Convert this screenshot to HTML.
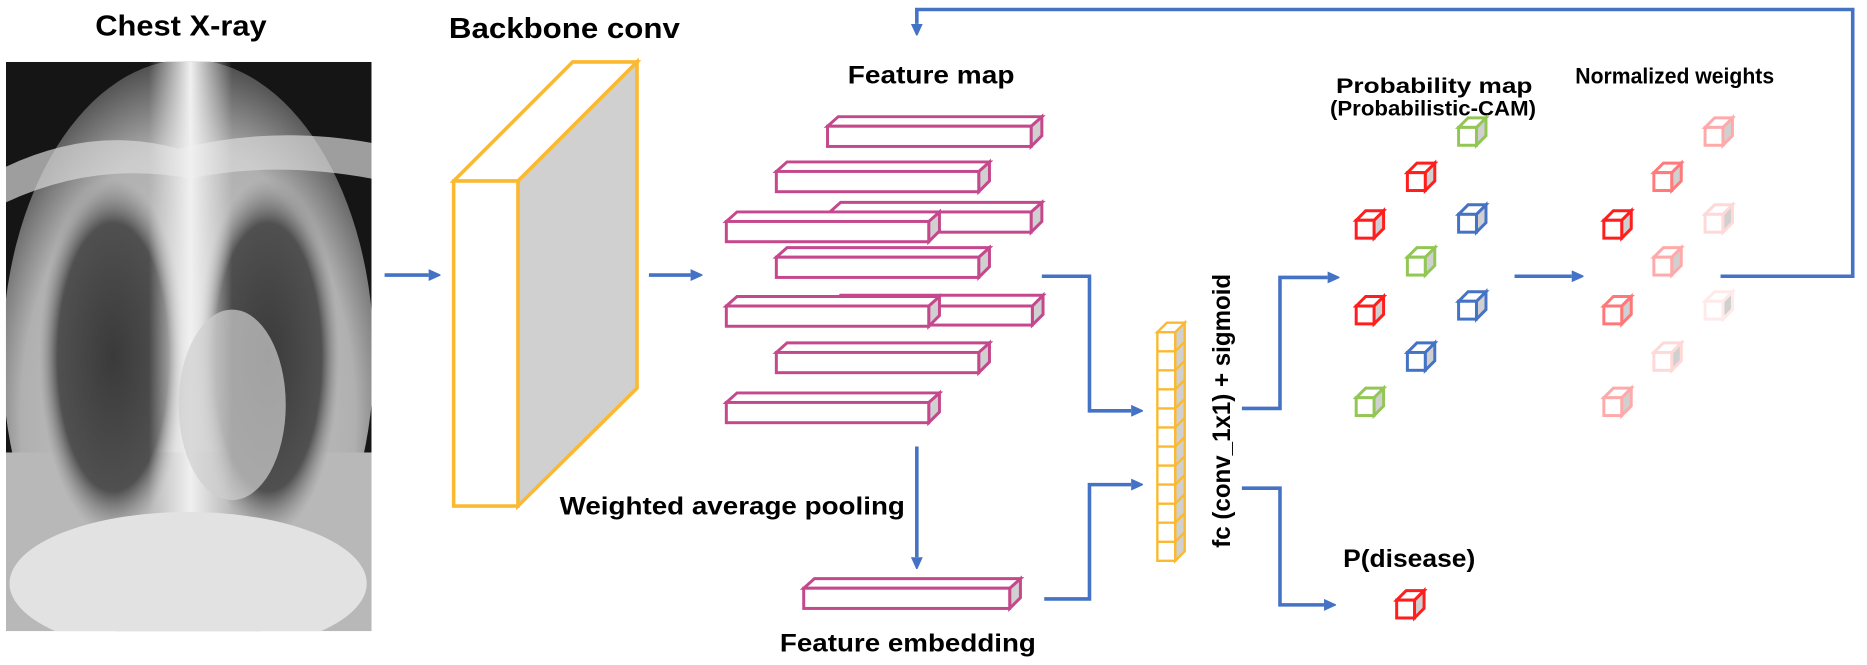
<!DOCTYPE html>
<html><head><meta charset="utf-8"><style>
html,body{margin:0;padding:0;background:#fff;overflow:hidden;width:1867px;height:665px;}
svg{display:block;}
text{font-family:"Liberation Sans",sans-serif;font-weight:bold;fill:#000;}
</style></head><body>
<svg width="1867" height="665" viewBox="0 0 1568 558.5" preserveAspectRatio="none" xmlns="http://www.w3.org/2000/svg">
<defs>
<marker id="ah" markerWidth="10" markerHeight="10" refX="0" refY="5" orient="auto" markerUnits="userSpaceOnUse">
<path d="M0,0 L11,5 L0,10 Z" fill="#4472C4"/></marker>
<clipPath id="xc"><rect x="5" y="52" width="307" height="478"/></clipPath>
<radialGradient id="body" cx="0.5" cy="0.6" r="0.6">
<stop offset="0" stop-color="#d0d0d0"/><stop offset="0.75" stop-color="#b0b0b0"/><stop offset="1" stop-color="#505050"/></radialGradient>
<radialGradient id="lung" cx="0.5" cy="0.5" r="0.5">
<stop offset="0" stop-color="#3a3a3a"/><stop offset="0.75" stop-color="#505050"/><stop offset="1" stop-color="#888" stop-opacity="0"/></radialGradient>
<linearGradient id="med" x1="0" x2="1"><stop offset="0" stop-color="#eee" stop-opacity="0"/><stop offset="0.5" stop-color="#f0f0f0"/><stop offset="1" stop-color="#eee" stop-opacity="0"/></linearGradient>
</defs>

<g clip-path="url(#xc)">
<rect x="5" y="52" width="307" height="478" fill="#151515"/>
<ellipse cx="158" cy="300" rx="156" ry="250" fill="url(#body)"/>
<rect x="5" y="380" width="307" height="150" fill="#b8b8b8"/>
<path d="M5,140 Q80,105 150,125 Q230,105 312,120 L312,150 Q230,135 160,150 Q80,135 5,170 Z" fill="#d8d8d8" opacity="0.7"/>
<ellipse cx="95" cy="300" rx="62" ry="150" fill="url(#lung)"/>
<ellipse cx="225" cy="300" rx="60" ry="150" fill="url(#lung)"/>
<rect x="125" y="52" width="70" height="478" fill="url(#med)"/>
<ellipse cx="195" cy="340" rx="45" ry="80" fill="#cfcfcf" opacity="0.7"/>
<ellipse cx="158" cy="490" rx="150" ry="60" fill="#e2e2e2"/>
</g>

<text x="80" y="30" font-size="24" textLength="144" lengthAdjust="spacingAndGlyphs">Chest X-ray</text>
<text x="377" y="32" font-size="24" textLength="194" lengthAdjust="spacingAndGlyphs">Backbone conv</text>
<text x="712" y="70" font-size="21" textLength="140" lengthAdjust="spacingAndGlyphs">Feature map</text>
<text x="1122" y="78" font-size="18" textLength="165" lengthAdjust="spacingAndGlyphs">Probability map</text>
<text x="1117" y="97" font-size="18" textLength="173" lengthAdjust="spacingAndGlyphs">(Probabilistic-CAM)</text>
<text x="1323" y="70" font-size="19" textLength="167" lengthAdjust="spacingAndGlyphs">Normalized weights</text>
<text x="470" y="432" font-size="21" textLength="290" lengthAdjust="spacingAndGlyphs">Weighted average pooling</text>
<text x="655" y="547" font-size="21" textLength="215" lengthAdjust="spacingAndGlyphs">Feature embedding</text>
<text x="1128" y="476" font-size="21" textLength="111" lengthAdjust="spacingAndGlyphs">P(disease)</text>
<text transform="translate(1033,460) rotate(-90)" font-size="21" textLength="230" lengthAdjust="spacingAndGlyphs">fc (conv_1x1) + sigmoid</text>

<g stroke="#FBB931" stroke-width="3" stroke-linejoin="miter">
<polygon points="435,152 535,52 535,326 435,425" fill="#d0d0d0"/>
<polygon points="381,152 481,52 535,52 435,152" fill="#fff"/>
<rect x="381" y="152" width="54" height="273" fill="#fff"/>
</g>

<g stroke="#4472C4" stroke-width="3" fill="none">
<line x1="323" y1="231" x2="360" y2="231" marker-end="url(#ah)"/>
<line x1="545" y1="231" x2="580" y2="231" marker-end="url(#ah)"/>
<polyline points="875,232 915,232 915,345 950,345" marker-end="url(#ah)"/>
<line x1="770" y1="375" x2="770" y2="468" marker-end="url(#ah)"/>
<polyline points="877,503 915,503 915,407 950,407" marker-end="url(#ah)"/>
<polyline points="1043,343 1075,343 1075,233 1115,233" marker-end="url(#ah)"/>
<polyline points="1043,410 1075,410 1075,508 1112,508" marker-end="url(#ah)"/>
<line x1="1272" y1="232" x2="1320" y2="232" marker-end="url(#ah)"/>
<polyline points="1445,232 1556,232 1556,8 770,8 770,20" marker-end="url(#ah)"/>
</g>

<g stroke="#C5488C" stroke-width="2.5" stroke-linejoin="miter">
<g><polygon points="866,106 875,98 875,114 866,123" fill="#d0d0d0"/><polygon points="695,106 704,98 875,98 866,106" fill="#fff"/><rect x="695" y="106" width="171" height="17" fill="#fff"/></g>
<g><polygon points="822,144 831,136 831,152 822,161" fill="#d0d0d0"/><polygon points="652,144 661,136 831,136 822,144" fill="#fff"/><rect x="652" y="144" width="170" height="17" fill="#fff"/></g>
<g><polygon points="866,178 875,170 875,186 866,195" fill="#d0d0d0"/><polygon points="697,178 706,170 875,170 866,178" fill="#fff"/><rect x="697" y="178" width="169" height="17" fill="#fff"/></g>
<g><polygon points="780,186 789,178 789,194 780,203" fill="#d0d0d0"/><polygon points="610,186 619,178 789,178 780,186" fill="#fff"/><rect x="610" y="186" width="170" height="17" fill="#fff"/></g>
<g><polygon points="822,216 831,208 831,224 822,233" fill="#d0d0d0"/><polygon points="652,216 661,208 831,208 822,216" fill="#fff"/><rect x="652" y="216" width="170" height="17" fill="#fff"/></g>
<g><polygon points="867,257 876,248 876,264 867,273" fill="#d0d0d0"/><polygon points="697,257 706,248 876,248 867,257" fill="#fff"/><rect x="697" y="257" width="170" height="16" fill="#fff"/></g>
<g><polygon points="780,257 789,249 789,265 780,274" fill="#d0d0d0"/><polygon points="610,257 619,249 789,249 780,257" fill="#fff"/><rect x="610" y="257" width="170" height="17" fill="#fff"/></g>
<g><polygon points="822,296 831,288 831,304 822,313" fill="#d0d0d0"/><polygon points="652,296 661,288 831,288 822,296" fill="#fff"/><rect x="652" y="296" width="170" height="17" fill="#fff"/></g>
<g><polygon points="780,338 789,330 789,346 780,355" fill="#d0d0d0"/><polygon points="610,338 619,330 789,330 780,338" fill="#fff"/><rect x="610" y="338" width="170" height="17" fill="#fff"/></g>
<g><polygon points="848,494 857,486 857,502 848,511" fill="#d0d0d0"/><polygon points="675,494 684,486 857,486 848,494" fill="#fff"/><rect x="675" y="494" width="173" height="17" fill="#fff"/></g>
</g>

<g stroke="#FBB931" stroke-width="2">
<polygon points="987,279 995,271 995,463 987,471" fill="#d0d0d0"/>
<polygon points="972,279 980,271 995,271 987,279" fill="#fff"/>
<rect x="972" y="279" width="15" height="192" fill="#fff"/>
<path d="M972,295h15M972,311h15M972,327h15M972,343h15M972,359h15M972,375h15M972,391h15M972,407h15M972,423h15M972,439h15M972,455h15M987,295l8,-8M987,311l8,-8M987,327l8,-8M987,343l8,-8M987,359l8,-8M987,375l8,-8M987,391l8,-8M987,407l8,-8M987,423l8,-8M987,439l8,-8M987,455l8,-8" fill="none"/>
</g>

<g stroke-width="2.5" stroke-linejoin="miter">
<g stroke="#FF1E1E"><polygon points="1154,185 1162,177 1162,192 1154,200" fill="#d0d0d0"/><polygon points="1139,185 1147,177 1162,177 1154,185" fill="#fff"/><rect x="1139" y="185" width="15" height="15" fill="#fff"/></g>
<g stroke="#FF1E1E"><polygon points="1154,257 1162,249 1162,264 1154,272" fill="#d0d0d0"/><polygon points="1139,257 1147,249 1162,249 1154,257" fill="#fff"/><rect x="1139" y="257" width="15" height="15" fill="#fff"/></g>
<g stroke="#92C755"><polygon points="1154,334 1162,326 1162,341 1154,349" fill="#d0d0d0"/><polygon points="1139,334 1147,326 1162,326 1154,334" fill="#fff"/><rect x="1139" y="334" width="15" height="15" fill="#fff"/></g>
<g stroke="#FF1E1E"><polygon points="1197,145 1205,137 1205,152 1197,160" fill="#d0d0d0"/><polygon points="1182,145 1190,137 1205,137 1197,145" fill="#fff"/><rect x="1182" y="145" width="15" height="15" fill="#fff"/></g>
<g stroke="#92C755"><polygon points="1197,216 1205,208 1205,223 1197,231" fill="#d0d0d0"/><polygon points="1182,216 1190,208 1205,208 1197,216" fill="#fff"/><rect x="1182" y="216" width="15" height="15" fill="#fff"/></g>
<g stroke="#4472C4"><polygon points="1197,296 1205,288 1205,303 1197,311" fill="#d0d0d0"/><polygon points="1182,296 1190,288 1205,288 1197,296" fill="#fff"/><rect x="1182" y="296" width="15" height="15" fill="#fff"/></g>
<g stroke="#92C755"><polygon points="1240,107 1248,99 1248,114 1240,122" fill="#d0d0d0"/><polygon points="1225,107 1233,99 1248,99 1240,107" fill="#fff"/><rect x="1225" y="107" width="15" height="15" fill="#fff"/></g>
<g stroke="#4472C4"><polygon points="1240,180 1248,172 1248,187 1240,195" fill="#d0d0d0"/><polygon points="1225,180 1233,172 1248,172 1240,180" fill="#fff"/><rect x="1225" y="180" width="15" height="15" fill="#fff"/></g>
<g stroke="#4472C4"><polygon points="1240,253 1248,245 1248,260 1240,268" fill="#d0d0d0"/><polygon points="1225,253 1233,245 1248,245 1240,253" fill="#fff"/><rect x="1225" y="253" width="15" height="15" fill="#fff"/></g>

<g stroke="#FF1E1E"><polygon points="1362,185 1370,177 1370,192 1362,200" fill="#d0d0d0"/><polygon points="1347,185 1355,177 1370,177 1362,185" fill="#fff"/><rect x="1347" y="185" width="15" height="15" fill="#fff"/></g>
<g stroke="#FF7777"><polygon points="1362,257 1370,249 1370,264 1362,272" fill="#d0d0d0"/><polygon points="1347,257 1355,249 1370,249 1362,257" fill="#fff"/><rect x="1347" y="257" width="15" height="15" fill="#fff"/></g>
<g stroke="#FFAAAA"><polygon points="1362,334 1370,326 1370,341 1362,349" fill="#d0d0d0"/><polygon points="1347,334 1355,326 1370,326 1362,334" fill="#fff"/><rect x="1347" y="334" width="15" height="15" fill="#fff"/></g>
<g stroke="#FF7A7A"><polygon points="1404,145 1412,137 1412,152 1404,160" fill="#d0d0d0"/><polygon points="1389,145 1397,137 1412,137 1404,145" fill="#fff"/><rect x="1389" y="145" width="15" height="15" fill="#fff"/></g>
<g stroke="#FFAAAA"><polygon points="1404,216 1412,208 1412,223 1404,231" fill="#d0d0d0"/><polygon points="1389,216 1397,208 1412,208 1404,216" fill="#fff"/><rect x="1389" y="216" width="15" height="15" fill="#fff"/></g>
<g stroke="#FFD8D8"><polygon points="1404,296 1412,288 1412,303 1404,311" fill="#d0d0d0"/><polygon points="1389,296 1397,288 1412,288 1404,296" fill="#fff"/><rect x="1389" y="296" width="15" height="15" fill="#fff"/></g>
<g stroke="#FFAAAA"><polygon points="1447,107 1455,99 1455,114 1447,122" fill="#d0d0d0"/><polygon points="1432,107 1440,99 1455,99 1447,107" fill="#fff"/><rect x="1432" y="107" width="15" height="15" fill="#fff"/></g>
<g stroke="#FFD8D8"><polygon points="1447,180 1455,172 1455,187 1447,195" fill="#d0d0d0"/><polygon points="1432,180 1440,172 1455,172 1447,180" fill="#fff"/><rect x="1432" y="180" width="15" height="15" fill="#fff"/></g>
<g stroke="#FFEAEA"><polygon points="1447,253 1455,245 1455,260 1447,268" fill="#d0d0d0"/><polygon points="1432,253 1440,245 1455,245 1447,253" fill="#fff"/><rect x="1432" y="253" width="15" height="15" fill="#fff"/></g>

<g stroke="#FF1E1E"><polygon points="1188,504 1196,496 1196,511 1188,519" fill="#d0d0d0"/><polygon points="1173,504 1181,496 1196,496 1188,504" fill="#fff"/><rect x="1173" y="504" width="15" height="15" fill="#fff"/></g>
</g>
</svg>
</body></html>
